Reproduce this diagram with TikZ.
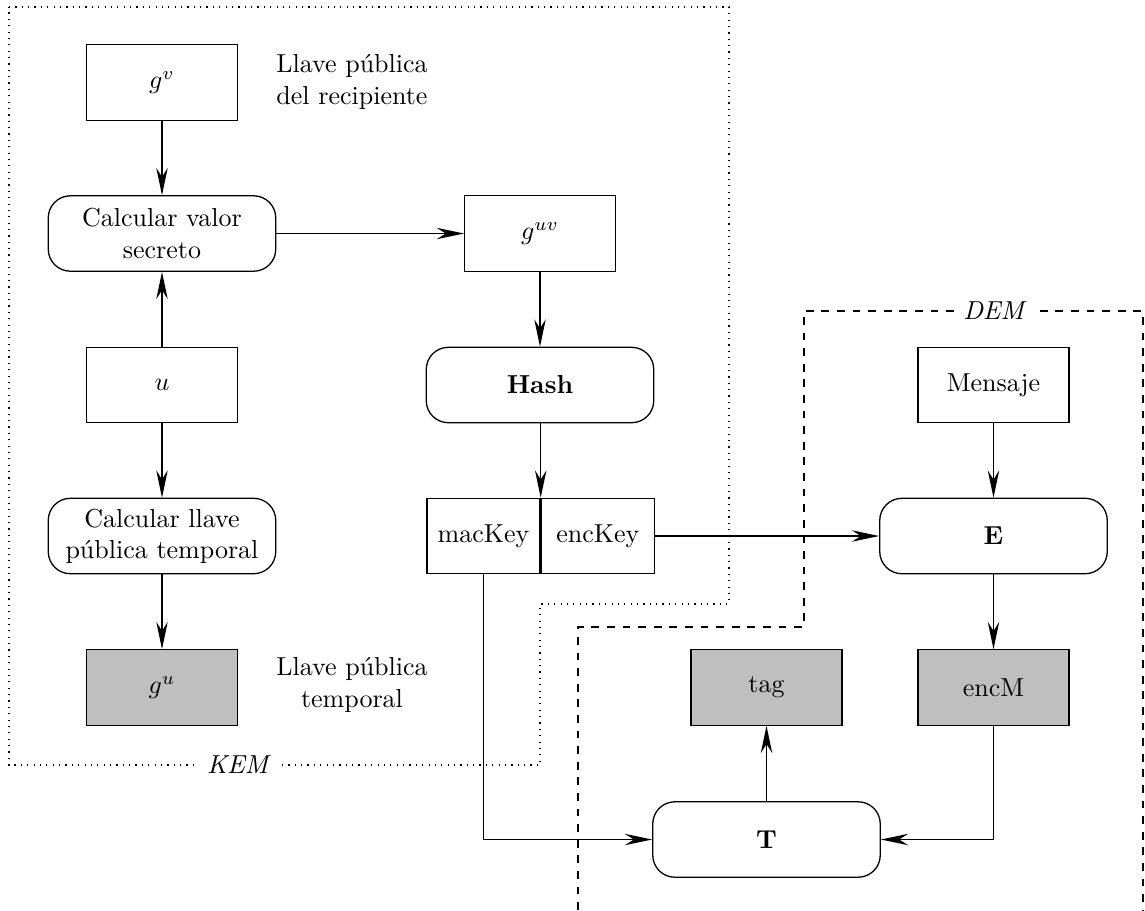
\documentclass[tikz,border=0pt]{standalone}
\usetikzlibrary{arrows.meta}
\begin{document}
\begin{tikzpicture}[x=0.3846pt,y=-0.3846pt, line width=0.5pt,
  mybox/.style={draw, minimum width=58pt, minimum height=29pt, inner sep=0pt},
  rbox/.style={draw, rounded corners=8.5pt, minimum width=87.5pt, minimum height=29pt, inner sep=0pt, align=center},
  halfbox/.style={draw, minimum width=43.5pt, minimum height=29pt, inner sep=0pt},
  shaded/.style={fill=black!25},
  arr/.style={-{Stealth[length=10.5pt,width=4.4pt,inset=3.5pt]}},
  note/.style={align=center, inner sep=0pt}]
\useasboundingbox (0,0) rectangle (1145,910);

% KEM frame
\draw[dotted, line width=0.45pt] (9,7) -- (729,7) -- (729,604) -- (540,604) -- (540,765) -- (9,765) -- cycle;
\node[fill=white, inner sep=3pt] (kem) at (239,765) {\textit{KEM}};
% DEM frame
\draw[dashed, line width=0.45pt] (578,910) -- (578,627) -- (804,627) -- (804,311) -- (1143,311) -- (1143,910);
\node[fill=white, inner sep=3pt] (dem) at (995,311) {\textit{DEM}};

% nodes
\node[mybox] (gv) at (162,82.5) {$g^v$};
\node[note] (lpr) at (352,82) {Llave pública\\del recipiente};
\node[rbox] (cvs) at (162,233.5) {Calcular valor\\secreto};
\node[mybox] (guv) at (540,233.5) {$g^{uv}$};
\node[mybox] (u) at (162,385) {$u$};
\node[rbox] (hash) at (540,385) {\textbf{Hash}};
\node[rbox] (clpt) at (162,536) {Calcular llave\\pública temporal};
\node[halfbox] (mac) at (483.5,536) {macKey};
\node[halfbox, anchor=west] (enc) at (mac.east) {encKey};
\node[mybox] (msg) at (993.5,385) {Mensaje};
\node[rbox] (E) at (993.5,536) {\textbf{E}};
\node[mybox, shaded] (gu) at (162,687.5) {$g^u$};
\node[note] (lpt) at (352,685) {Llave pública\\temporal};
\node[mybox, shaded] (tag) at (766.5,687.5) {tag};
\node[mybox, shaded] (encM) at (993.5,687.5) {encM};
\node[rbox] (T) at (766.5,839.5) {\textbf{T}};

% connectors
\draw[arr] (gv) -- (cvs);
\draw[arr] (u) -- (cvs);
\draw[arr] (u) -- (clpt);
\draw[arr] (clpt) -- (gu);
\draw[arr] (cvs) -- (guv);
\draw[arr] (guv) -- (hash);
\draw[arr] (hash.south -| mac.north east) -- (mac.north east);
\draw[arr] (enc) -- (E);
\draw[arr] (msg) -- (E);
\draw[arr] (E) -- (encM);
\draw[arr] (mac.south) |- (T.west);
\draw[arr] (encM.south) |- (T.east);
\draw[arr] (T) -- (tag);
\end{tikzpicture}
\end{document}
